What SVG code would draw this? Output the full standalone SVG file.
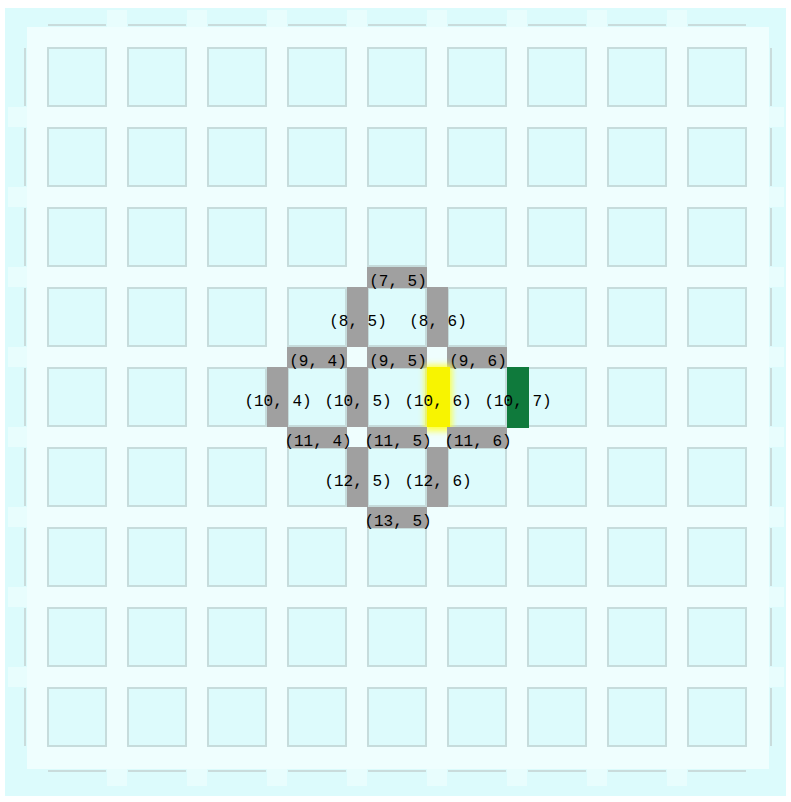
<svg xmlns="http://www.w3.org/2000/svg" width="791" height="802" viewBox="0 0 791 802">
<defs>
<style>
.blk{fill:#ddfbfc;stroke:#c6dcdc;stroke-width:2}
.edge{stroke:#c9dcdc;stroke-width:2}
.ext{fill:#e8fdfd}
.gray{fill:#a0a0a0}
.lbl{font-family:"Liberation Mono","DejaVu Sans Mono",monospace;font-size:16px;fill:#000000;text-anchor:middle}
</style>
<filter id="glow" x="-50%" y="-50%" width="200%" height="200%"><feGaussianBlur stdDeviation="3"/></filter>
<rect id="b" width="58" height="58" class="blk"/>
<line id="hl" x1="0" y1="0" x2="58" y2="0" class="edge"/>
<line id="vl" x1="0" y1="0" x2="0" y2="58" class="edge"/>
<g id="row">
<use href="#b" x="48"/><use href="#b" x="128"/><use href="#b" x="208"/><use href="#b" x="288"/><use href="#b" x="368"/><use href="#b" x="448"/><use href="#b" x="528"/><use href="#b" x="608"/><use href="#b" x="688"/>
</g>
<g id="hrow">
<use href="#hl" x="48"/><use href="#hl" x="128"/><use href="#hl" x="208"/><use href="#hl" x="288"/><use href="#hl" x="368"/><use href="#hl" x="448"/><use href="#hl" x="528"/><use href="#hl" x="608"/><use href="#hl" x="688"/>
</g>
<g id="vcol">
<use href="#vl" y="48"/><use href="#vl" y="128"/><use href="#vl" y="208"/><use href="#vl" y="288"/><use href="#vl" y="368"/><use href="#vl" y="448"/><use href="#vl" y="528"/><use href="#vl" y="608"/><use href="#vl" y="688"/>
</g>
</defs>
<rect x="0" y="0" width="791" height="802" fill="#ffffff"/>
<rect x="5" y="8" width="781" height="788" fill="#dcfbfc"/>
<g id="extensions">
<rect x="8" y="107" width="19" height="20" class="ext"/><rect x="8" y="187" width="19" height="20" class="ext"/><rect x="8" y="267" width="19" height="20" class="ext"/><rect x="8" y="347" width="19" height="20" class="ext"/><rect x="8" y="427" width="19" height="20" class="ext"/><rect x="8" y="507" width="19" height="20" class="ext"/><rect x="8" y="587" width="19" height="20" class="ext"/><rect x="8" y="667" width="19" height="20" class="ext"/>
<rect x="769" y="107" width="15" height="20" class="ext"/><rect x="769" y="187" width="15" height="20" class="ext"/><rect x="769" y="267" width="15" height="20" class="ext"/><rect x="769" y="347" width="15" height="20" class="ext"/><rect x="769" y="427" width="15" height="20" class="ext"/><rect x="769" y="507" width="15" height="20" class="ext"/><rect x="769" y="587" width="15" height="20" class="ext"/><rect x="769" y="667" width="15" height="20" class="ext"/>
<rect x="107" y="10" width="20" height="17" class="ext"/><rect x="187" y="10" width="20" height="17" class="ext"/><rect x="267" y="10" width="20" height="17" class="ext"/><rect x="347" y="10" width="20" height="17" class="ext"/><rect x="427" y="10" width="20" height="17" class="ext"/><rect x="507" y="10" width="20" height="17" class="ext"/><rect x="587" y="10" width="20" height="17" class="ext"/><rect x="667" y="10" width="20" height="17" class="ext"/>
<rect x="107" y="769" width="20" height="17" class="ext"/><rect x="187" y="769" width="20" height="17" class="ext"/><rect x="267" y="769" width="20" height="17" class="ext"/><rect x="347" y="769" width="20" height="17" class="ext"/><rect x="427" y="769" width="20" height="17" class="ext"/><rect x="507" y="769" width="20" height="17" class="ext"/><rect x="587" y="769" width="20" height="17" class="ext"/><rect x="667" y="769" width="20" height="17" class="ext"/>
</g>
<rect x="27" y="27" width="742" height="742" fill="#effefe"/>
<g id="blocks-grid">
<use href="#row" y="48"/><use href="#row" y="128"/><use href="#row" y="208"/><use href="#row" y="288"/><use href="#row" y="368"/><use href="#row" y="448"/><use href="#row" y="528"/><use href="#row" y="608"/><use href="#row" y="688"/>
</g>
<g id="outer-lines">
<use href="#hrow" y="25"/><use href="#hrow" y="771"/><use href="#vcol" x="25"/><use href="#vcol" x="771"/>
</g>
<g id="connectors">
<g id="seg-7-5"><rect class="gray" x="367" y="267" width="60" height="21"/><text class="lbl" x="398" y="286">(7, 5)</text></g>
<g id="seg-8-5"><rect class="gray" x="347" y="287" width="21" height="60"/><text class="lbl" x="358" y="326">(8, 5)</text></g>
<g id="seg-8-6"><rect class="gray" x="427" y="287" width="21" height="60"/><text class="lbl" x="438" y="326">(8, 6)</text></g>
<g id="seg-9-4"><rect class="gray" x="287" y="347" width="60" height="21"/><text class="lbl" x="318" y="366">(9, 4)</text></g>
<g id="seg-9-5"><rect class="gray" x="367" y="347" width="60" height="21"/><text class="lbl" x="398" y="366">(9, 5)</text></g>
<g id="seg-9-6"><rect class="gray" x="447" y="347" width="60" height="21"/><text class="lbl" x="478" y="366">(9, 6)</text></g>
<g id="seg-10-4"><rect class="gray" x="267" y="367" width="21" height="60"/><text class="lbl" x="278" y="406">(10, 4)</text></g>
<g id="seg-10-5"><rect class="gray" x="347" y="367" width="21" height="60"/><text class="lbl" x="358" y="406">(10, 5)</text></g>
<g id="seg-10-6"><rect x="425" y="365" width="27" height="66" fill="#ffff40" filter="url(#glow)"/><rect x="427" y="367" width="23" height="60" fill="#f8f400"/><text class="lbl" x="438" y="406">(10, 6)</text></g>
<g id="seg-10-7"><rect x="507" y="367" width="22" height="61" fill="#0f7a3c"/><text class="lbl" x="518" y="406">(10, 7)</text></g>
<g id="seg-11-4"><rect class="gray" x="287" y="427" width="60" height="21"/><text class="lbl" x="318" y="446">(11, 4)</text></g>
<g id="seg-11-5"><rect class="gray" x="367" y="427" width="60" height="21"/><text class="lbl" x="398" y="446">(11, 5)</text></g>
<g id="seg-11-6"><rect class="gray" x="447" y="427" width="60" height="21"/><text class="lbl" x="478" y="446">(11, 6)</text></g>
<g id="seg-12-5"><rect class="gray" x="347" y="447" width="21" height="60"/><text class="lbl" x="358" y="486">(12, 5)</text></g>
<g id="seg-12-6"><rect class="gray" x="427" y="447" width="21" height="60"/><text class="lbl" x="438" y="486">(12, 6)</text></g>
<g id="seg-13-5"><rect class="gray" x="367" y="507" width="60" height="21"/><text class="lbl" x="398" y="526">(13, 5)</text></g>
</g>
</svg>
